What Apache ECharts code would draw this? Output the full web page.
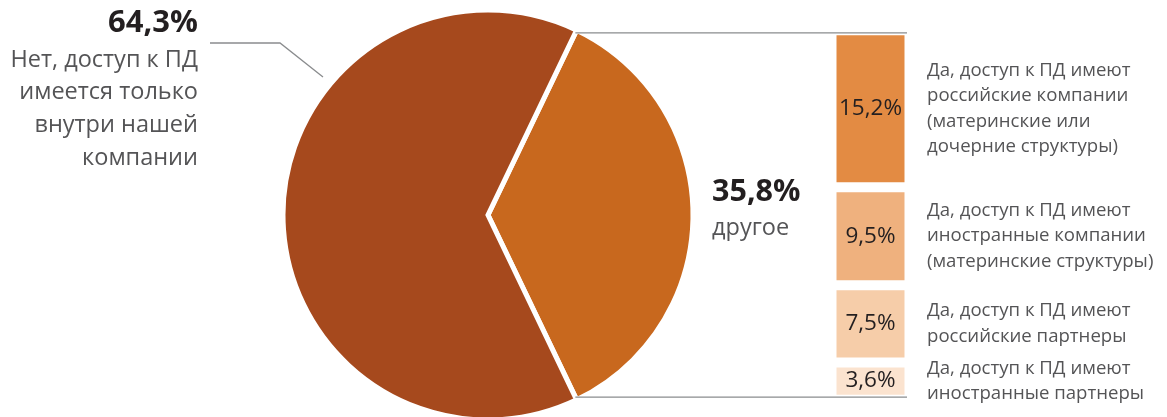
<!DOCTYPE html>
<html>
<head>
<meta charset="utf-8">
<script src="https://cdn.jsdelivr.net/npm/echarts@6/dist/echarts.min.js"></script>
<style>
  html, body { margin: 0; padding: 0; background: #fff; }
  #chart { width: 1167px; height: 417px; }
</style>
</head>
<body>
<div id="chart"></div>
<script>
// Pie: share of companies by who has access to personal data
const pieNames = ['другое', 'Нет, доступ к ПД\nимеется только\nвнутри нашей\nкомпании'];
const pieValues = [35.8, 64.3];
const pieColors = ['#C8681E', '#A6491D'];

// Breakdown of the "другое" slice
const barNames = [
  'Да, доступ к ПД имеют\nроссийские компании\n(материнские или\nдочерние структуры)',
  'Да, доступ к ПД имеют\nиностранные компании\n(материнские структуры)',
  'Да, доступ к ПД имеют\nроссийские партнеры',
  'Да, доступ к ПД имеют\nиностранные партнеры'
];
const barValues = [15.2, 9.5, 7.5, 3.6];
const barColors = ['#E38B43', '#EFB17E', '#F6CDA9', '#FBE3CF'];

const FONT = '"Open Sans", "Noto Sans", sans-serif';
const fmt = v => v.toFixed(1).replace('.', ',') + '%';

// layout
const cx = 488, cy = 215, R = 205, GAP = 5;
const barLeft = 834, barW = 73;

const pieTotal = pieValues.reduce((a, b) => a + b, 0);
const half = pieValues[0] / pieTotal * 180;          // half-angle of the "другое" slice
const rad = half * Math.PI / 180;
const rEdge = R - GAP / 2 - 0.5;
const cornerX = cx + rEdge * Math.cos(rad);
const topY = cy - rEdge * Math.sin(rad);
const botY = cy + rEdge * Math.sin(rad);
const barTotal = barValues.reduce((a, b) => a + b, 0);

const chart = echarts.init(document.getElementById('chart'), null, { renderer: 'canvas' });

const option = {
  animation: false,
  backgroundColor: '#fff',
  grid: {
    left: barLeft - GAP / 2,
    top: topY - GAP / 2,
    width: barW + GAP,
    height: (botY - topY) + GAP,
    containLabel: false
  },
  xAxis: { type: 'category', data: [''], show: false },
  yAxis: { type: 'value', min: 0, max: barTotal, inverse: true, show: false },
  series: [
    {
      type: 'pie',
      center: [cx, cy],
      radius: R,
      startAngle: half,
      clockwise: true,
      label: { show: false },
      labelLine: { show: false },
      emphasis: { disabled: true },
      itemStyle: { borderColor: '#fff', borderWidth: GAP, borderJoin: 'miter' },
      data: pieValues.map((v, i) => ({ value: v, name: pieNames[i], itemStyle: { color: pieColors[i] } }))
    },
    ...barValues.map((v, i) => ({
      type: 'bar',
      stack: 'other',
      barWidth: '100%',
      data: [v],
      itemStyle: { color: barColors[i], borderColor: '#fff', borderWidth: GAP },
      label: {
        show: true,
        position: 'inside',
        formatter: () => fmt(v),
        color: '#231F20',
        fontFamily: FONT,
        fontSize: 22.5
      },
      emphasis: { disabled: true }
    }))
  ]
};
chart.setOption(option);

// annotations: slice labels, connectors and descriptions of the breakdown
const graphics = [];
const descX = 927;
let acc = 0;
barValues.forEach((v, i) => {
  const mid = chart.convertToPixel({ gridIndex: 0 }, [0, acc + v / 2])[1];
  acc += v;
  graphics.push({
    type: 'text',
    x: descX, y: mid,
    style: {
      text: barNames[i],
      fill: '#545456',
      font: '18.6px ' + FONT,
      lineHeight: 25.5,
      textVerticalAlign: 'middle',
      textAlign: 'left'
    }
  });
});

const lineStyle = { stroke: '#8A8C8E', lineWidth: 1.3, fill: null };
graphics.push(
  { type: 'polyline', shape: { points: [[cornerX, topY], [barLeft + barW, topY]] }, style: lineStyle, z: 10 },
  { type: 'polyline', shape: { points: [[cornerX, botY], [barLeft + barW, botY]] }, style: lineStyle, z: 10 },
  { type: 'polyline', shape: { points: [[210, 43], [280, 43], [323, 77]] }, style: lineStyle, z: 10 },
  {
    type: 'text', x: 198, y: 23,
    style: { text: fmt(pieValues[1]), fill: '#231F20', font: 'bold 31px ' + FONT, textAlign: 'right', textVerticalAlign: 'middle' }
  },
  {
    type: 'text', x: 198, y: 109,
    style: { text: pieNames[1], fill: '#545456', font: '23.5px ' + FONT, lineHeight: 32.7, textAlign: 'right', textVerticalAlign: 'middle' }
  },
  {
    type: 'text', x: 712, y: 192,
    style: { text: fmt(pieValues[0]), fill: '#231F20', font: 'bold 30.5px ' + FONT, textAlign: 'left', textVerticalAlign: 'middle' }
  },
  {
    type: 'text', x: 712, y: 228,
    style: { text: pieNames[0], fill: '#545456', font: '23.5px ' + FONT, textAlign: 'left', textVerticalAlign: 'middle' }
  }
);
chart.setOption({ graphic: graphics });
</script>
</body>
</html>
